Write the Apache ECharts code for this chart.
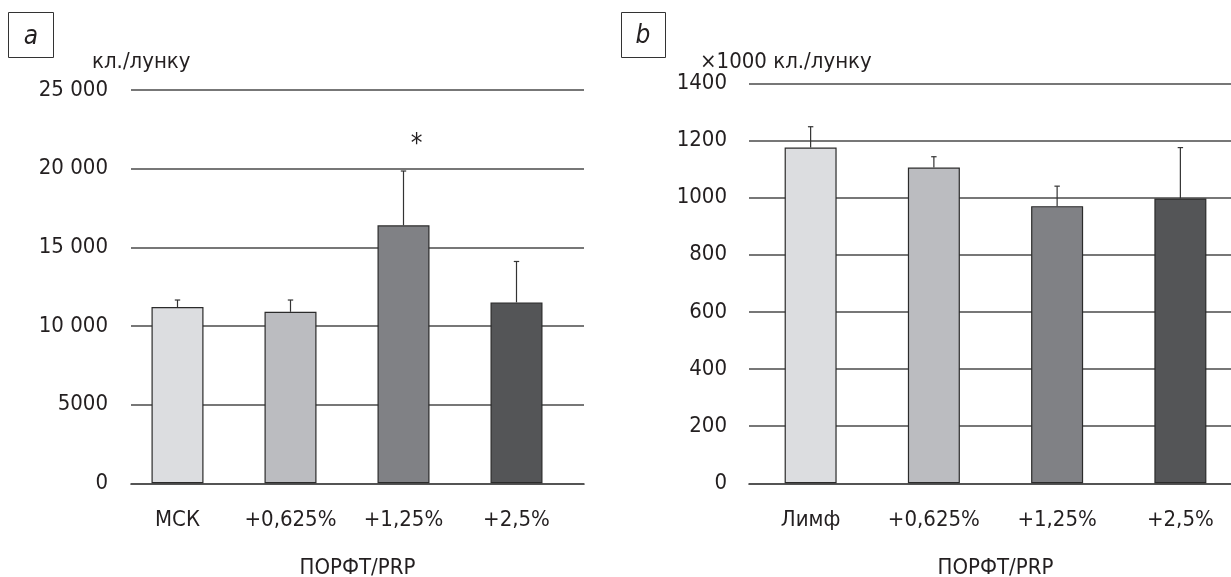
<!DOCTYPE html>
<html>
<head>
<meta charset="utf-8">
<script src="https://cdn.jsdelivr.net/npm/echarts@6/dist/echarts.min.js"></script>
<style>
  html, body { margin: 0; padding: 0; background: #ffffff; }
  #chart { width: 1231px; height: 577px; }
</style>
</head>
<body>
<div id="chart"></div>
<script>
// ---- data ----
const categoriesA = ['МСК', '+0,625%', '+1,25%', '+2,5%'];
const valuesA = [11200, 10900, 16400, 11500];
const errorsA = [450, 750, 3450, 2600];
const yTickLabelsA = ['0', '5000', '10 000', '15 000', '20 000', '25 000'];

const categoriesB = ['Лимф', '+0,625%', '+1,25%', '+2,5%'];
const valuesB = [1175, 1105, 970, 997];
const errorsB = [73, 38, 70, 178];
const yTickLabelsB = ['0', '200', '400', '600', '800', '1000', '1200', '1400'];

const xAxisTitle = 'ПОРФТ/PRP';
const unitA = 'кл./лунку';
const unitB = '×1000 кл./лунку';
const significanceMark = '*';

// ---- styles ----
const barColors = ['#dcdde0', '#bbbcc0', '#808185', '#545557'];
const FONT = '"Liberation Sans Narrow", "DejaVu Sans Condensed", "Liberation Sans", sans-serif';
const TEXT = '#231f20';
const GRID_LINE = '#4a4a4a';
const FS = 22;

const chart = echarts.init(document.getElementById('chart'), null, { renderer: 'canvas' });

function barData(values) {
  return values.map((v, i) => ({ value: v, itemStyle: { color: barColors[i] } }));
}
function errData(values, errs) {
  return values.map((v, i) => [i, v, errs[i]]);
}
function errRender(params, api) {
  const x = api.value(0);
  const p0 = api.coord([x, api.value(1)]);
  const p1 = api.coord([x, api.value(1) + api.value(2)]);
  const hc = 2.7;
  const st = { stroke: '#333333', lineWidth: 1.2 };
  return {
    type: 'group',
    children: [
      { type: 'line', shape: { x1: p0[0], y1: p0[1], x2: p1[0], y2: p1[1] }, style: st },
      { type: 'line', shape: { x1: p1[0] - hc, y1: p1[1], x2: p1[0] + hc, y2: p1[1] }, style: st }
    ]
  };
}

const yLabelStyle = { color: TEXT, fontFamily: FONT, fontSize: FS };

const option = {
  backgroundColor: '#ffffff',
  animation: false,
  grid: [
    // A: lines / axis grid
    { left: 131, width: 453, top: 90, height: 393.3, outerBoundsMode: 'none', containLabel: false },
    // A: bars grid (bars sit slightly left of the frame)
    { left: 121, width: 452, top: 90, height: 393.3, outerBoundsMode: 'none', containLabel: false },
    // B
    { left: 749, width: 493, top: 83.3, height: 400, outerBoundsMode: 'none', containLabel: false }
  ],
  xAxis: [
    {
      gridIndex: 0, type: 'category', data: categoriesA,
      axisLine: { show: true, lineStyle: { color: GRID_LINE, width: 1.7 } },
      axisTick: { show: false }, axisLabel: { show: false },
      name: xAxisTitle, nameLocation: 'middle', nameGap: 74,
      nameTextStyle: { color: TEXT, fontFamily: FONT, fontSize: FS }
    },
    {
      gridIndex: 1, type: 'category', data: categoriesA,
      axisLine: { show: false }, axisTick: { show: false },
      axisLabel: { color: TEXT, fontFamily: FONT, fontSize: FS, margin: 26, interval: 0 }
    },
    {
      gridIndex: 2, type: 'category', data: categoriesB,
      axisLine: { show: true, lineStyle: { color: GRID_LINE, width: 1.7 } },
      axisTick: { show: false },
      axisLabel: { color: TEXT, fontFamily: FONT, fontSize: FS, margin: 26, interval: 0 },
      name: xAxisTitle, nameLocation: 'middle', nameGap: 74,
      nameTextStyle: { color: TEXT, fontFamily: FONT, fontSize: FS }
    }
  ],
  yAxis: [
    {
      gridIndex: 0, type: 'value', min: 0, max: 25000, interval: 5000,
      axisLine: { show: false }, axisTick: { show: false },
      axisLabel: Object.assign({ margin: 23, formatter: v => yTickLabelsA[Math.round(v / 5000)] }, yLabelStyle),
      splitLine: { show: true, lineStyle: { color: GRID_LINE, width: 1.7 } }
    },
    {
      gridIndex: 1, type: 'value', min: 0, max: 25000, interval: 5000, show: false,
      splitLine: { show: false }
    },
    {
      gridIndex: 2, type: 'value', min: 0, max: 1400, interval: 200,
      axisLine: { show: false }, axisTick: { show: false },
      axisLabel: Object.assign({ margin: 22, formatter: v => yTickLabelsB[Math.round(v / 200)] }, yLabelStyle),
      splitLine: { show: true, lineStyle: { color: GRID_LINE, width: 1.7 } }
    }
  ],
  series: [
    {
      type: 'bar', xAxisIndex: 1, yAxisIndex: 1, data: barData(valuesA), barWidth: 52,
      itemStyle: { borderColor: '#2b2b2b', borderWidth: 1.2 },
      markPoint: {
        symbol: 'circle', symbolSize: 0,
        data: [{ coord: [2, 21950], label: { show: true, formatter: significanceMark, offset: [13, 7],
          color: TEXT, fontFamily: FONT, fontSize: 26 } }]
      }
    },
    {
      type: 'custom', xAxisIndex: 1, yAxisIndex: 1, data: errData(valuesA, errorsA),
      renderItem: errRender, z: 3
    },
    {
      type: 'bar', xAxisIndex: 2, yAxisIndex: 2, data: barData(valuesB), barWidth: 52,
      itemStyle: { borderColor: '#2b2b2b', borderWidth: 1.2 }
    },
    {
      type: 'custom', xAxisIndex: 2, yAxisIndex: 2, data: errData(valuesB, errorsB),
      renderItem: errRender, z: 3
    }
  ],
  graphic: [
    { type: 'rect', shape: { x: 8.5, y: 12.5, width: 45, height: 45 }, style: { fill: 'none', stroke: '#333333', lineWidth: 1 } },
    { type: 'text', x: 31, y: 37, style: { text: 'a', fontFamily: FONT, fontStyle: 'italic', fontSize: 26, fill: TEXT, align: 'center', verticalAlign: 'middle' } },
    { type: 'rect', shape: { x: 621.5, y: 12.5, width: 44, height: 45 }, style: { fill: 'none', stroke: '#333333', lineWidth: 1 } },
    { type: 'text', x: 643, y: 36, style: { text: 'b', fontFamily: FONT, fontStyle: 'italic', fontSize: 26, fill: TEXT, align: 'center', verticalAlign: 'middle' } },
    { type: 'text', x: 92, y: 62, style: { text: unitA, fontFamily: FONT, fontSize: FS, fill: TEXT, align: 'left', verticalAlign: 'middle' } },
    { type: 'text', x: 700, y: 62, style: { text: unitB, fontFamily: FONT, fontSize: FS, fill: TEXT, align: 'left', verticalAlign: 'middle' } }
  ]
};
chart.setOption(option);
</script>
</body>
</html>
